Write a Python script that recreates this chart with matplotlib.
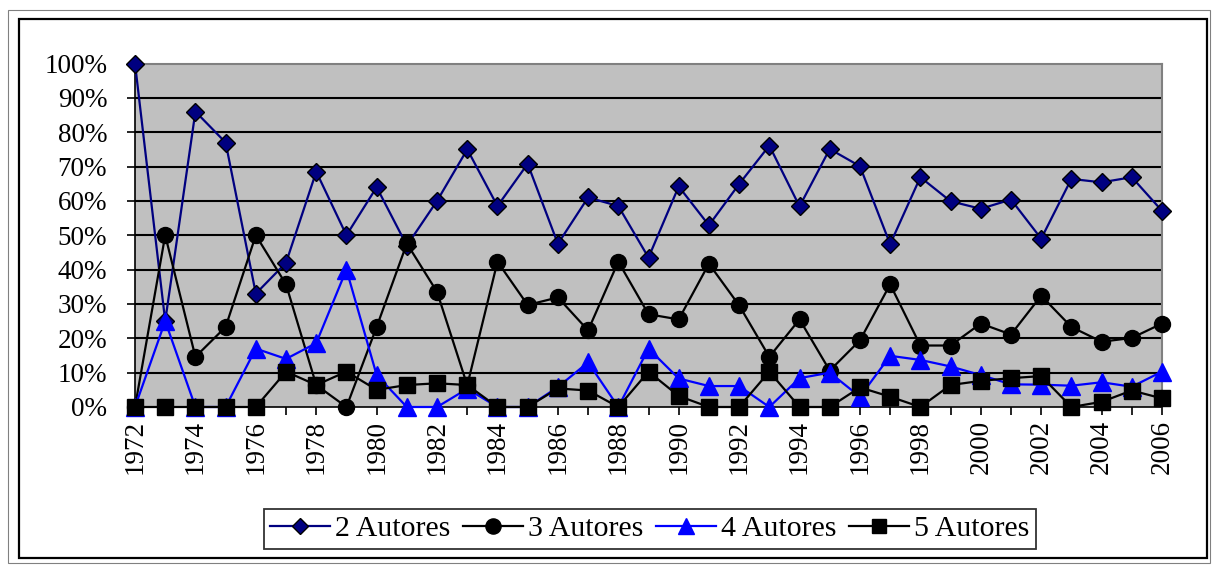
import matplotlib
matplotlib.use("Agg")
import matplotlib.pyplot as plt
from matplotlib.patches import Rectangle
import numpy as np

years = list(range(1972, 2007))
autores2 = [100, 25, 86, 77, 33, 42, 68.5, 50, 64, 47, 60, 75,
            58.5, 70.8, 47.5, 61, 58.5, 43.5, 64.2, 52.9, 64.9, 76.1, 58.4,
            75.1, 70.1, 47.4, 66.9, 59.9, 57.7, 60.4, 49, 66.4, 65.4, 66.9, 57.1]
autores3 = [0, 50, 14.6, 23.3, 50, 35.7, 6.4, 0, 23.3, 47.6, 33.5, 6.3,
            42.3, 29.7, 31.9, 22.3, 42.3, 27, 25.5, 41.7, 29.6, 14.6, 25.5,
            10.6, 19.4, 35.7, 17.9, 17.9, 24.3, 21.1, 32.4, 23.3, 19, 20.1, 24.3]
autores4 = [0, 25, 0, 0, 17, 14, 18.6, 40, 9.3, 0, 0, 5.3,
            0, 0, 5.8, 13, 0, 17, 8.3, 6.1, 6.1, 0, 8.4,
            10, 3, 14.9, 13.7, 11.8, 9.3, 6.6, 6.5, 6.2, 7.2, 5.9, 10.3]
autores5 = [0, 0, 0, 0, 0, 10.3, 6.4, 10.3, 5, 6.4, 6.9, 6.4,
            0, 0, 5.4, 4.8, 0, 10.3, 3.2, 0, 0, 10.3, 0,
            0, 5.7, 3, 0, 6.4, 7.6, 8.4, 9, 0, 1.5, 4.8, 2.5]
series_labels = ["2 Autores", "3 Autores", "4 Autores", "5 Autores"]
y_ticks = list(range(0, 101, 10))
y_ticklabels = [f"{v}%" for v in y_ticks]
x_ticklabels_years = list(range(1972, 2007, 2))

plt.rcParams['font.family'] = ['Liberation Serif', 'DejaVu Serif']

W, H = 1212, 565
fig = plt.figure(figsize=(W / 100, H / 100), dpi=100)

# figure borders
fig.patches.append(Rectangle((8 / W, 1 - 563 / H), (1210 - 8) / W, (563 - 10) / H,
                             transform=fig.transFigure, fill=False,
                             edgecolor='#808080', linewidth=0.8))
fig.patches.append(Rectangle((19 / W, 1 - 558 / H), (1207 - 19) / W, (558 - 19) / H,
                             transform=fig.transFigure, fill=False,
                             edgecolor='black', linewidth=1.6))

L, R, T, B = 135, 1162, 63.5, 407
ax = fig.add_axes([L / W, 1 - B / H, (R - L) / W, (B - T) / H])
ax.set_facecolor('#C0C0C0')
ax.set_xlim(1972, 2006)
ax.set_ylim(0, 100)

for y in y_ticks[1:-1]:
    ax.axhline(y, color='black', linewidth=1.5, zorder=1)

for side in ['top', 'right']:
    ax.spines[side].set_color('#808080')
    ax.spines[side].set_linewidth(1.5)
for side in ['left', 'bottom']:
    ax.spines[side].set_color('black')
    ax.spines[side].set_linewidth(1.2)

ax.set_yticks(y_ticks)
ax.set_yticklabels(y_ticklabels, fontsize=19.5)
ax.set_xticks(years)
ax.set_xticklabels([str(y) if y in x_ticklabels_years else '' for y in years],
                   rotation=90, fontsize=19.5)
ax.tick_params(axis='both', direction='out', length=6, width=1.2, color='black')
ax.tick_params(axis='x', pad=3)
ax.tick_params(axis='y', pad=14)

lw = 1.6
l2, = ax.plot(years, autores2, color='#000080', linewidth=lw, marker='D', markersize=9,
              markerfacecolor='#000080', markeredgecolor='black', markeredgewidth=1,
              clip_on=False, zorder=3, label=series_labels[0])
l3, = ax.plot(years, autores3, color='black', linewidth=lw, marker='o', markersize=11.5,
              markerfacecolor='black', markeredgecolor='black',
              clip_on=False, zorder=4, label=series_labels[1])
l4, = ax.plot(years, autores4, color='#0000FF', linewidth=lw, marker='^', markersize=12.5,
              markerfacecolor='#0000FF', markeredgecolor='#0000FF',
              clip_on=False, zorder=5, label=series_labels[2])
l5, = ax.plot(years, autores5, color='black', linewidth=lw, marker='s', markersize=11,
              markerfacecolor='black', markeredgecolor='black',
              clip_on=False, zorder=6, label=series_labels[3])

leg = fig.legend(handles=[l2, l3, l4, l5], loc='center',
                 bbox_to_anchor=(650 / W, 1 - 529 / H), ncol=4, fontsize=21.5,
                 frameon=True, fancybox=False, edgecolor='black',
                 handlelength=2.0, handletextpad=0.17, columnspacing=0.43,
                 borderpad=0.22, borderaxespad=0)
leg.get_frame().set_linewidth(1.3)
for h in leg.legend_handles:
    h.set_markersize(h.get_markersize() * 0.95)

fig.savefig('out.png', dpi=100)
